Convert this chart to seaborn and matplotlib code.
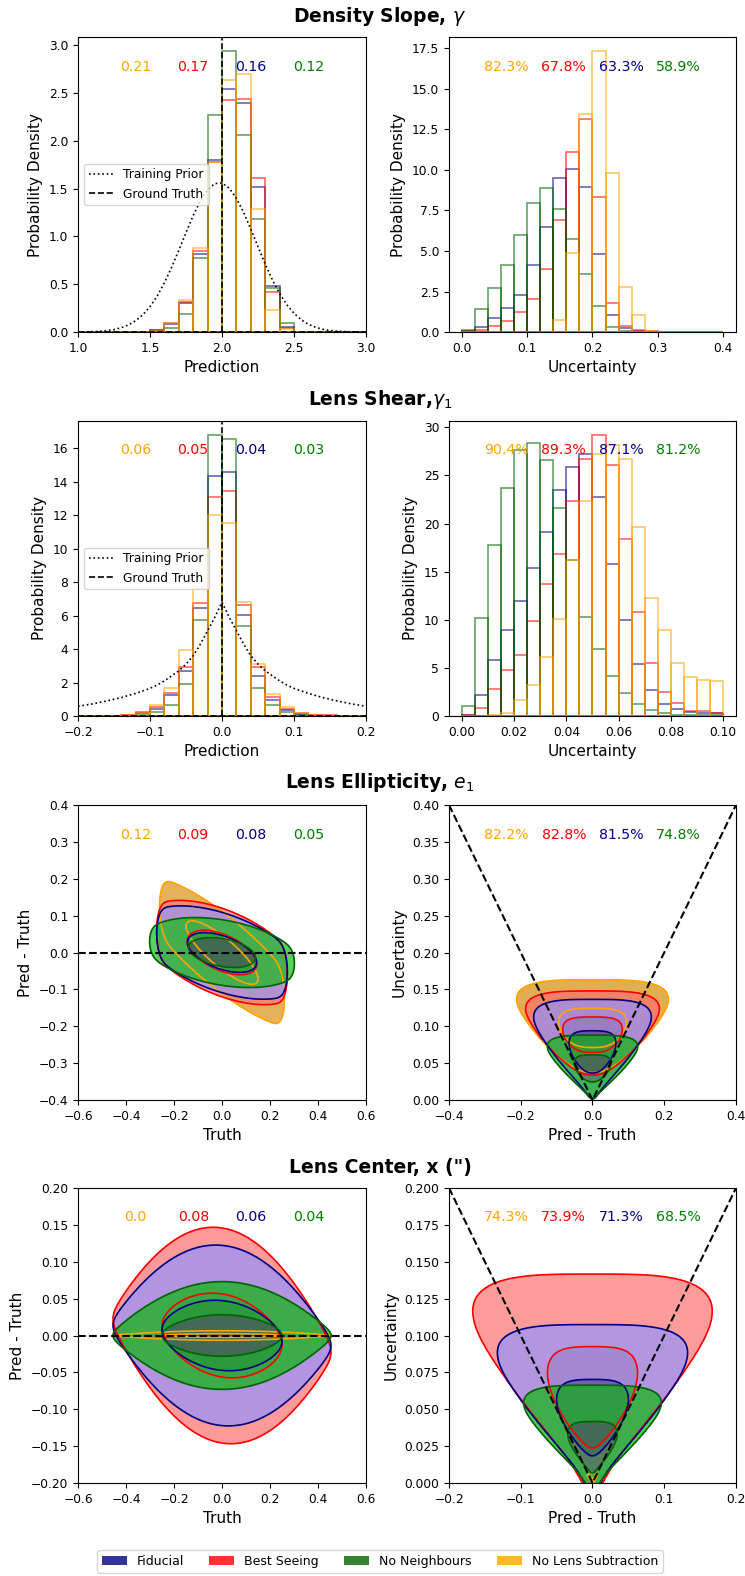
import numpy as np
import matplotlib
matplotlib.use("Agg")
import matplotlib.pyplot as plt
from matplotlib.patches import Patch
from matplotlib.ticker import MultipleLocator
import seaborn as sns

plt.rcParams.update({
    "font.family": ["DejaVu Sans"],
    "xtick.labelsize": 8.8,
    "ytick.labelsize": 8.8,
    "axes.labelsize": 11,
    "legend.fontsize": 8.8,
})

# ------------------------------------------------------------------ series
series = ["Fiducial", "Best Seeing", "No Neighbours", "No Lens Subtraction"]
line_color = {"Fiducial": "navy", "Best Seeing": "red",
              "No Neighbours": "darkgreen", "No Lens Subtraction": "orange"}
text_color = {"Fiducial": "darkblue", "Best Seeing": "red",
              "No Neighbours": "green", "No Lens Subtraction": "orange"}
# order of the summary numbers printed across the top of each panel
summary_order = ["No Lens Subtraction", "Best Seeing", "Fiducial", "No Neighbours"]
# contours are layered in this order
kde_order = ["No Lens Subtraction", "Best Seeing", "Fiducial", "No Neighbours"]

row_titles = ["Density Slope, $\\gamma$", "Lens Shear,$\\gamma_1$",
              "Lens Ellipticity, $e_1$", "Lens Center, x (\")"]

# ------------------------------------------------ density slope histograms
gamma_edges = [round(1.0 + 0.1 * i, 3) for i in range(21)]
gamma_pred = {
    "Fiducial":            [0, 0, 0, 0, 0, 0.02, 0.08, 0.30, 0.82, 1.80, 2.54, 2.40, 1.52, 0.48, 0.05, 0, 0, 0, 0, 0],
    "Best Seeing":         [0, 0, 0, 0, 0, 0.02, 0.10, 0.31, 0.85, 1.78, 2.43, 2.44, 1.61, 0.42, 0.04, 0, 0, 0, 0, 0],
    "No Neighbours":       [0, 0, 0, 0, 0, 0.01, 0.04, 0.19, 0.77, 2.27, 2.94, 2.06, 1.18, 0.46, 0.09, 0, 0, 0, 0, 0],
    "No Lens Subtraction": [0, 0, 0, 0, 0, 0.01, 0.09, 0.34, 0.88, 1.78, 2.64, 2.70, 1.29, 0.23, 0.03, 0, 0, 0, 0, 0],
}
gamma_unc_edges = [round(0.02 * i, 3) for i in range(21)]
gamma_unc = {
    "Fiducial":            [0.08, 0.29, 0.84, 1.48, 2.28, 4.13, 6.45, 9.51, 10.08, 8.95, 4.81, 1.07, 0.25, 0.08, 0.03, 0.02, 0.02, 0.02, 0.02, 0],
    "Best Seeing":         [0.05, 0.12, 0.37, 0.68, 1.23, 2.03, 3.92, 6.90, 11.09, 13.14, 8.30, 1.79, 0.35, 0.10, 0.04, 0.02, 0.01, 0.02, 0, 0],
    "No Neighbours":       [0.14, 1.42, 2.69, 4.11, 5.98, 7.93, 8.89, 7.60, 5.75, 3.57, 1.62, 0.29, 0.05, 0, 0, 0, 0, 0, 0, 0],
    "No Lens Subtraction": [0, 0, 0, 0, 0, 0, 0.02, 0.76, 4.87, 13.43, 17.33, 9.80, 2.77, 1.03, 0.05, 0, 0, 0, 0, 0],
}
gamma_truth = 2.0
gamma_prior_x = [round(1.0 + 0.05 * i, 3) for i in range(41)]
gamma_prior_y = [0.001, 0.002, 0.004, 0.008, 0.015, 0.026, 0.045, 0.074, 0.118, 0.180,
                 0.266, 0.378, 0.516, 0.677, 0.856, 1.041, 1.220, 1.373, 1.489, 1.554,
                 1.560, 1.506, 1.400, 1.253, 1.078, 0.893, 0.712, 0.546, 0.403, 0.286,
                 0.196, 0.129, 0.081, 0.050, 0.029, 0.016, 0.009, 0.005, 0.002, 0.001, 0.000]
gamma_rmse = ["0.21", "0.17", "0.16", "0.12"]
gamma_cov = ["82.3%", "67.8%", "63.3%", "58.9%"]

# -------------------------------------------------- lens shear histograms
shear_edges = [round(-0.2 + 0.02 * i, 3) for i in range(21)]
shear_pred = {
    "Fiducial":            [0, 0, 0, 0.05, 0.20, 0.44, 1.23, 2.67, 6.45, 14.33, 14.61, 6.01, 2.39, 0.94, 0.38, 0.12, 0.03, 0, 0, 0],
    "Best Seeing":         [0, 0, 0, 0.08, 0.25, 0.54, 1.39, 2.93, 6.77, 13.07, 13.47, 6.65, 2.93, 1.13, 0.44, 0.17, 0.05, 0.03, 0, 0],
    "No Neighbours":       [0, 0, 0, 0.02, 0.10, 0.24, 0.68, 1.93, 5.71, 16.80, 16.56, 5.35, 1.67, 0.64, 0.24, 0.05, 0, 0, 0, 0],
    "No Lens Subtraction": [0, 0, 0, 0.05, 0.20, 0.68, 1.67, 3.92, 7.66, 12.04, 11.54, 6.81, 3.12, 1.33, 0.54, 0.20, 0.05, 0, 0, 0],
}
shear_unc_edges = [round(0.005 * i, 4) for i in range(21)]
shear_unc = {
    "Fiducial":            [0.10, 2.20, 5.85, 8.90, 12.0, 15.4, 19.1, 23.5, 25.9, 27.2, 22.8, 15.8, 10.0, 5.40, 2.65, 1.28, 0.70, 0.45, 0.35, 0.30],
    "Best Seeing":         [0.05, 0.85, 2.85, 4.80, 6.30, 9.85, 13.75, 16.8, 22.3, 26.7, 29.2, 26.1, 18.4, 10.8, 5.50, 2.50, 1.40, 0.55, 0.55, 0.35],
    "No Neighbours":       [1.00, 10.2, 17.8, 23.7, 27.6, 28.4, 26.6, 21.6, 16.2, 10.3, 7.00, 4.16, 2.42, 1.25, 0.60, 0.30, 0.15, 0.10, 0.05, 0.05],
    "No Lens Subtraction": [0, 0, 0.05, 0.35, 1.70, 3.25, 6.15, 10.1, 16.2, 22.3, 27.2, 28.2, 26.7, 19.6, 12.3, 8.90, 5.55, 4.05, 3.78, 3.60],
}
shear_truth = 0.0
shear_prior_x = [-0.20, -0.18, -0.16, -0.14, -0.12, -0.10, -0.09, -0.08, -0.07, -0.06, -0.05, -0.04,
                 -0.03, -0.02, -0.01, 0.00, 0.01, 0.02, 0.03, 0.04, 0.05, 0.06, 0.07, 0.08, 0.09,
                 0.10, 0.12, 0.14, 0.16, 0.18, 0.20]
shear_prior_y = [0.58, 0.72, 0.90, 1.10, 1.35, 1.65, 1.85, 2.10, 2.40, 2.70, 3.10, 3.60,
                 4.30, 5.10, 5.90, 6.80, 5.90, 5.10, 4.30, 3.60, 3.10, 2.70, 2.40, 2.10, 1.85,
                 1.65, 1.35, 1.10, 0.90, 0.72, 0.58]
shear_rmse = ["0.06", "0.05", "0.04", "0.03"]
shear_cov = ["90.4%", "89.3%", "87.1%", "81.2%"]

# ------------------------------- ellipticity / centre: contour summaries
# truth: spread, outer edge, taper towards the edge
# residual: slope against truth, scatter, narrowing towards the edge
e1_truth_sd =  {"Fiducial": 0.15, "Best Seeing": 0.15, "No Neighbours": 0.14, "No Lens Subtraction": 0.16}
e1_edge =      {"Fiducial": 0.26, "Best Seeing": 0.26, "No Neighbours": 0.30, "No Lens Subtraction": 0.245}
e1_taper =     {"Fiducial": 0.0, "Best Seeing": 0.0, "No Neighbours": 0.0, "No Lens Subtraction": 0.0}
e1_slope =     {"Fiducial": -0.19, "Best Seeing": -0.22, "No Neighbours": -0.10, "No Lens Subtraction": -0.48}
e1_scatter =   {"Fiducial": 0.048, "Best Seeing": 0.053, "No Neighbours": 0.038, "No Lens Subtraction": 0.050}
e1_narrow =    {"Fiducial": 0.0, "Best Seeing": 0.0, "No Neighbours": 0.0, "No Lens Subtraction": 0.0}
# uncertainty: centre, spread; residual / uncertainty ratio
e1_unc_mean =  {"Fiducial": 0.080, "Best Seeing": 0.097, "No Neighbours": 0.052, "No Lens Subtraction": 0.107}
e1_unc_sd =    {"Fiducial": 0.033, "Best Seeing": 0.029, "No Neighbours": 0.021, "No Lens Subtraction": 0.032}
e1_ratio =     {"Fiducial": 1.05, "Best Seeing": 1.05, "No Neighbours": 1.25, "No Lens Subtraction": 1.08}
e1_rmse = ["0.12", "0.09", "0.08", "0.05"]
e1_cov = ["82.2%", "82.8%", "81.5%", "74.8%"]

x_truth_sd =   {"Fiducial": 10.0, "Best Seeing": 10.0, "No Neighbours": 10.0, "No Lens Subtraction": 10.0}
x_edge =       {"Fiducial": 0.49, "Best Seeing": 0.49, "No Neighbours": 0.49, "No Lens Subtraction": 0.49}
x_taper =      {"Fiducial": 2.0, "Best Seeing": 2.0, "No Neighbours": 2.0, "No Lens Subtraction": 2.0}
x_slope =      {"Fiducial": -0.03, "Best Seeing": -0.05, "No Neighbours": 0.0, "No Lens Subtraction": 0.0}
x_scatter =    {"Fiducial": 0.057, "Best Seeing": 0.068, "No Neighbours": 0.034, "No Lens Subtraction": 0.003}
x_narrow =     {"Fiducial": 0.9, "Best Seeing": 0.9, "No Neighbours": 0.9, "No Lens Subtraction": 0.9}
x_unc_mean =   {"Fiducial": 0.060, "Best Seeing": 0.079, "No Neighbours": 0.036, "No Lens Subtraction": 0.003}
x_unc_sd =     {"Fiducial": 0.028, "Best Seeing": 0.037, "No Neighbours": 0.018, "No Lens Subtraction": 0.002}
x_ratio =      {"Fiducial": 1.10, "Best Seeing": 1.05, "No Neighbours": 1.30, "No Lens Subtraction": 1.00}
x_rmse = ["0.0", "0.08", "0.06", "0.04"]
x_cov = ["74.3%", "73.9%", "71.3%", "68.5%"]

# profile exponents (2 = gaussian)
TRUTH_PANEL_PROFILE = 2.0
UNC_PROFILE = 2.5
UNC_PANEL_PROFILE = 3.5
LEVELS = [0.05, 0.6, 1.0]


def truth_residual_cloud(sd, edge, taper, slope, scatter, narrow):
    """Weighted lattice of (truth, residual) pairs for one configuration."""
    t = np.linspace(-edge, edge, 71)
    z = np.linspace(-4.0, 4.0, 80)
    T, Z = np.meshgrid(t, z)
    G = np.clip(1.0 - (T / edge) ** 2, 0.0, None)
    R = slope * T + scatter * G ** narrow * Z
    W = (np.exp(-0.5 * (T / sd) ** 2) * G ** taper
         * np.exp(-0.5 * np.abs(Z) ** TRUTH_PANEL_PROFILE))
    keep = W > W.max() * 1e-5
    return T[keep], R[keep], W[keep]


def residual_uncertainty_cloud(mean, sd, ratio):
    """Weighted lattice of (residual, uncertainty) pairs for one configuration."""
    u = np.linspace(max(mean - 3.8 * sd, 1e-4), mean + 3.8 * sd, 70)
    z = np.linspace(-3.2, 3.2, 80)
    U, Z = np.meshgrid(u, z)
    D = ratio * U * Z
    W = (np.exp(-0.5 * np.abs((U - mean) / sd) ** UNC_PROFILE)
         * np.exp(-0.5 * np.abs(Z) ** UNC_PANEL_PROFILE))
    keep = W > W.max() * 1e-5
    return D[keep], U[keep], W[keep]


def draw_contours(ax, clouds):
    for name in kde_order:
        x, y, w = clouds[name]
        sns.kdeplot(x=x, y=y, weights=w, fill=True, levels=LEVELS, color=line_color[name],
                    alpha=0.7, bw_method=0.15, gridsize=120, ax=ax)
    for name in kde_order:
        x, y, w = clouds[name]
        sns.kdeplot(x=x, y=y, weights=w, fill=False, levels=LEVELS[:2], color=line_color[name],
                    linewidths=1.2, bw_method=0.15, gridsize=120, ax=ax)


def draw_hist(ax, edges, values):
    centers = [0.5 * (a + b) for a, b in zip(edges[:-1], edges[1:])]
    for name in series:
        sns.histplot(x=centers, weights=values[name], bins=edges, stat="count",
                     element="bars", fill=False, color=line_color[name], alpha=0.6,
                     linewidth=1.2, ax=ax)


def put_summary(ax, labels):
    for i, (name, lab) in enumerate(zip(summary_order, labels)):
        ax.text(0.2 + 0.2 * i, 0.9, lab, transform=ax.transAxes, ha="center", va="center",
                color=text_color[name], fontsize=10.2)


# ------------------------------------------------------------------ figure
fig = plt.figure(figsize=(7.45, 15.76), dpi=100)
left_x, right_x = 0.1047, 0.6027
left_w, right_w, ax_h = 0.3866, 0.3852, 0.1872
row_y = [0.7893, 0.5457, 0.3020, 0.0590]
title_y = [0.9898, 0.7462, 0.5032, 0.2595]

axes = [(fig.add_axes([left_x, y, left_w, ax_h]), fig.add_axes([right_x, y, right_w, ax_h]))
        for y in row_y]

for t, y in zip(row_titles, title_y):
    fig.text(0.51, y, t, ha="center", va="center", fontsize=13.5, fontweight="bold")

# row 1: density slope
ax, bx = axes[0]
draw_hist(ax, gamma_edges, gamma_pred)
sns.lineplot(x=gamma_prior_x, y=gamma_prior_y, color="k", linestyle=":", linewidth=1.2,
             label="Training Prior", ax=ax)
ax.axvline(gamma_truth, color="k", linestyle="--", linewidth=1.2, label="Ground Truth")
ax.axhline(0, color="k", linestyle="--", linewidth=1.2)
ax.set_xlim(1.0, 3.0)
ax.xaxis.set_major_locator(MultipleLocator(0.5))
ax.legend(loc="center left")
ax.set_xlabel("Prediction")
ax.set_ylabel("Probability Density")
put_summary(ax, gamma_rmse)

draw_hist(bx, gamma_unc_edges, gamma_unc)
bx.set_xlim(-0.02, 0.42)
bx.xaxis.set_major_locator(MultipleLocator(0.1))
bx.set_xlabel("Uncertainty")
bx.set_ylabel("Probability Density")
put_summary(bx, gamma_cov)

# row 2: shear
ax, bx = axes[1]
draw_hist(ax, shear_edges, shear_pred)
sns.lineplot(x=shear_prior_x, y=shear_prior_y, color="k", linestyle=":", linewidth=1.2,
             label="Training Prior", ax=ax)
ax.axvline(shear_truth, color="k", linestyle="--", linewidth=1.2, label="Ground Truth")
ax.axhline(0, color="k", linestyle="--", linewidth=1.2)
ax.set_xlim(-0.2, 0.2)
ax.xaxis.set_major_locator(MultipleLocator(0.1))
ax.legend(loc="center left")
ax.set_xlabel("Prediction")
ax.set_ylabel("Probability Density")
put_summary(ax, shear_rmse)

draw_hist(bx, shear_unc_edges, shear_unc)
bx.set_xlim(-0.005, 0.105)
bx.xaxis.set_major_locator(MultipleLocator(0.02))
bx.set_xlabel("Uncertainty")
bx.set_ylabel("Probability Density")
put_summary(bx, shear_cov)

# row 3: ellipticity
ax, bx = axes[2]
draw_contours(ax, {n: truth_residual_cloud(e1_truth_sd[n], e1_edge[n], e1_taper[n],
                                           e1_slope[n], e1_scatter[n], e1_narrow[n])
                   for n in series})
ax.axhline(0, color="k", linestyle="--", linewidth=1.5)
ax.set_xlim(-0.6, 0.6)
ax.set_ylim(-0.4, 0.4)
ax.set_xlabel("Truth")
ax.set_ylabel("Pred - Truth")
put_summary(ax, e1_rmse)

draw_contours(bx, {n: residual_uncertainty_cloud(e1_unc_mean[n], e1_unc_sd[n], e1_ratio[n])
                   for n in series})
lim = 0.4
bx.plot([-lim, 0, lim], [lim, 0, lim], color="k", linestyle="--", linewidth=1.5)
bx.set_xlim(-lim, lim)
bx.set_ylim(0, lim)
bx.xaxis.set_major_locator(MultipleLocator(0.2))
bx.set_xlabel("Pred - Truth")
bx.set_ylabel("Uncertainty")
put_summary(bx, e1_cov)

# row 4: centre
ax, bx = axes[3]
draw_contours(ax, {n: truth_residual_cloud(x_truth_sd[n], x_edge[n], x_taper[n],
                                           x_slope[n], x_scatter[n], x_narrow[n])
                   for n in series})
ax.axhline(0, color="k", linestyle="--", linewidth=1.5)
ax.set_xlim(-0.6, 0.6)
ax.set_ylim(-0.2, 0.2)
ax.set_xlabel("Truth")
ax.set_ylabel("Pred - Truth")
put_summary(ax, x_rmse)

draw_contours(bx, {n: residual_uncertainty_cloud(x_unc_mean[n], x_unc_sd[n], x_ratio[n])
                   for n in series})
lim = 0.2
bx.plot([-lim, 0, lim], [lim, 0, lim], color="k", linestyle="--", linewidth=1.5)
bx.set_xlim(-lim, lim)
bx.set_ylim(0, lim)
bx.xaxis.set_major_locator(MultipleLocator(0.1))
bx.set_xlabel("Pred - Truth")
bx.set_ylabel("Uncertainty")
put_summary(bx, x_cov)

handles = [Patch(facecolor=line_color[n], alpha=0.8, label=n) for n in series]
fig.legend(handles=handles, loc="center", bbox_to_anchor=(0.51, 0.0095), ncol=4,
           fontsize=9.0)

fig.savefig("out.png", dpi=100)
